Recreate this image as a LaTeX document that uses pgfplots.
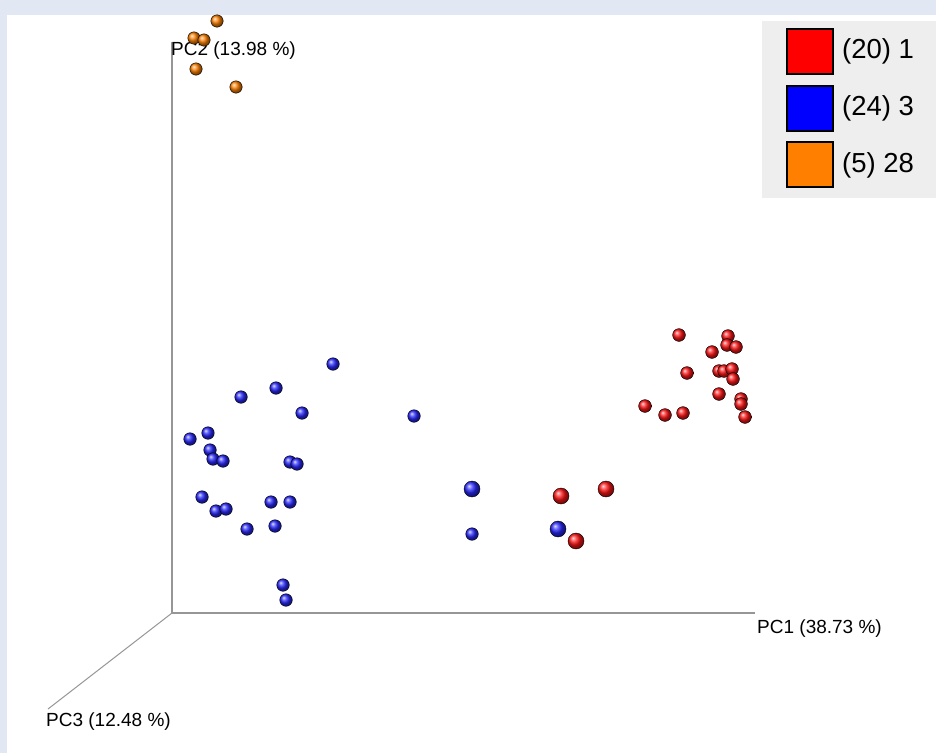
\documentclass[border=0pt]{standalone}
\usepackage{pgfplots}
\pgfplotsset{compat=1.18}
\usepackage{fontspec}
\setmainfont{Liberation Sans}
\definecolor{band}{RGB}{225,231,243}
\definecolor{leggray}{RGB}{238,238,238}
\definecolor{axgray}{RGB}{150,150,150}
\definecolor{pred}{RGB}{255,0,0}
\definecolor{pblue}{RGB}{0,0,255}
\definecolor{porange}{RGB}{255,128,0}
\definecolor{bblue}{RGB}{40,40,255}
\definecolor{bred}{RGB}{255,20,20}
\begin{document}
\begin{tikzpicture}
\fill[band] (0,0) rectangle (936pt,753pt);
\fill[white] (7pt,0) rectangle (936pt,738pt);
\begin{axis}[width=936pt,height=753pt,scale only axis,hide axis,
  xmin=0,xmax=936,ymin=0,ymax=753,y dir=reverse,clip=false]
% axes
\draw[axgray,line width=1.4pt] (axis cs:172,42) -- (axis cs:172,613) -- (axis cs:755,613);
\draw[axgray,line width=1pt] (axis cs:172,613) -- (axis cs:48,709);
\node[anchor=west,inner sep=0pt,font=\fontsize{19}{22}\selectfont] at (axis cs:757,629) {PC1 (38.73 \%)};
\node[anchor=west,inner sep=0pt,font=\fontsize{19}{22}\selectfont] at (axis cs:171,51) {PC2 (13.98 \%)};
\node[anchor=west,inner sep=0pt,font=\fontsize{19}{22}\selectfont] at (axis cs:46,722) {PC3 (12.48 \%)};
% orange
\addplot[only marks,mark=ball,mark size=6.2pt,mark options={ball color=porange}] coordinates {
(217,21) (194,38) (204,40) (196,69) (236,87)};
% blue
\addplot[only marks,mark=ball,mark size=6.3pt,mark options={ball color=bblue}] coordinates {
(333,364) (276,388) (241,397) (302,413) (208,433) (190,439) (210,450) (213,459)
(223,461) (290,462) (297,464) (202,497) (216,511) (226,509) (271,502) (290,502)
(247,529) (275,526) (283,585) (286,600) (414,416) (472,534)};
\addplot[only marks,mark=ball,mark size=8pt,mark options={ball color=bblue}] coordinates {
(472,489) (558,529)};
% red
\addplot[only marks,mark=ball,mark size=6.4pt,mark options={ball color=bred}] coordinates {
(679,335) (728,336) (727,345) (736,347) (712,352) (687,373) (719,371) (724,371)
(732,369) (733,379) (719,394) (741,399) (741,404) (645,406) (665,415) (683,413) (745,417)};
\addplot[only marks,mark=ball,mark size=8pt,mark options={ball color=bred}] coordinates {
(561,496) (606,489) (576,541)};
% legend
\fill[leggray] (axis cs:762,21) rectangle (axis cs:936,198);
\filldraw[fill=pred,draw=black,line width=1.5pt] (axis cs:787,29) rectangle (axis cs:833,74);
\filldraw[fill=pblue,draw=black,line width=1.5pt] (axis cs:787,86) rectangle (axis cs:833,131);
\filldraw[fill=porange,draw=black,line width=1.5pt] (axis cs:787,142) rectangle (axis cs:833,187);
\node[anchor=west,inner sep=0pt,font=\fontsize{27.5}{30}\selectfont] at (axis cs:842,51) {(20) 1};
\node[anchor=west,inner sep=0pt,font=\fontsize{27.5}{30}\selectfont] at (axis cs:842,108) {(24) 3};
\node[anchor=west,inner sep=0pt,font=\fontsize{27.5}{30}\selectfont] at (axis cs:842,165) {(5) 28};
\end{axis}
\end{tikzpicture}
\end{document}
